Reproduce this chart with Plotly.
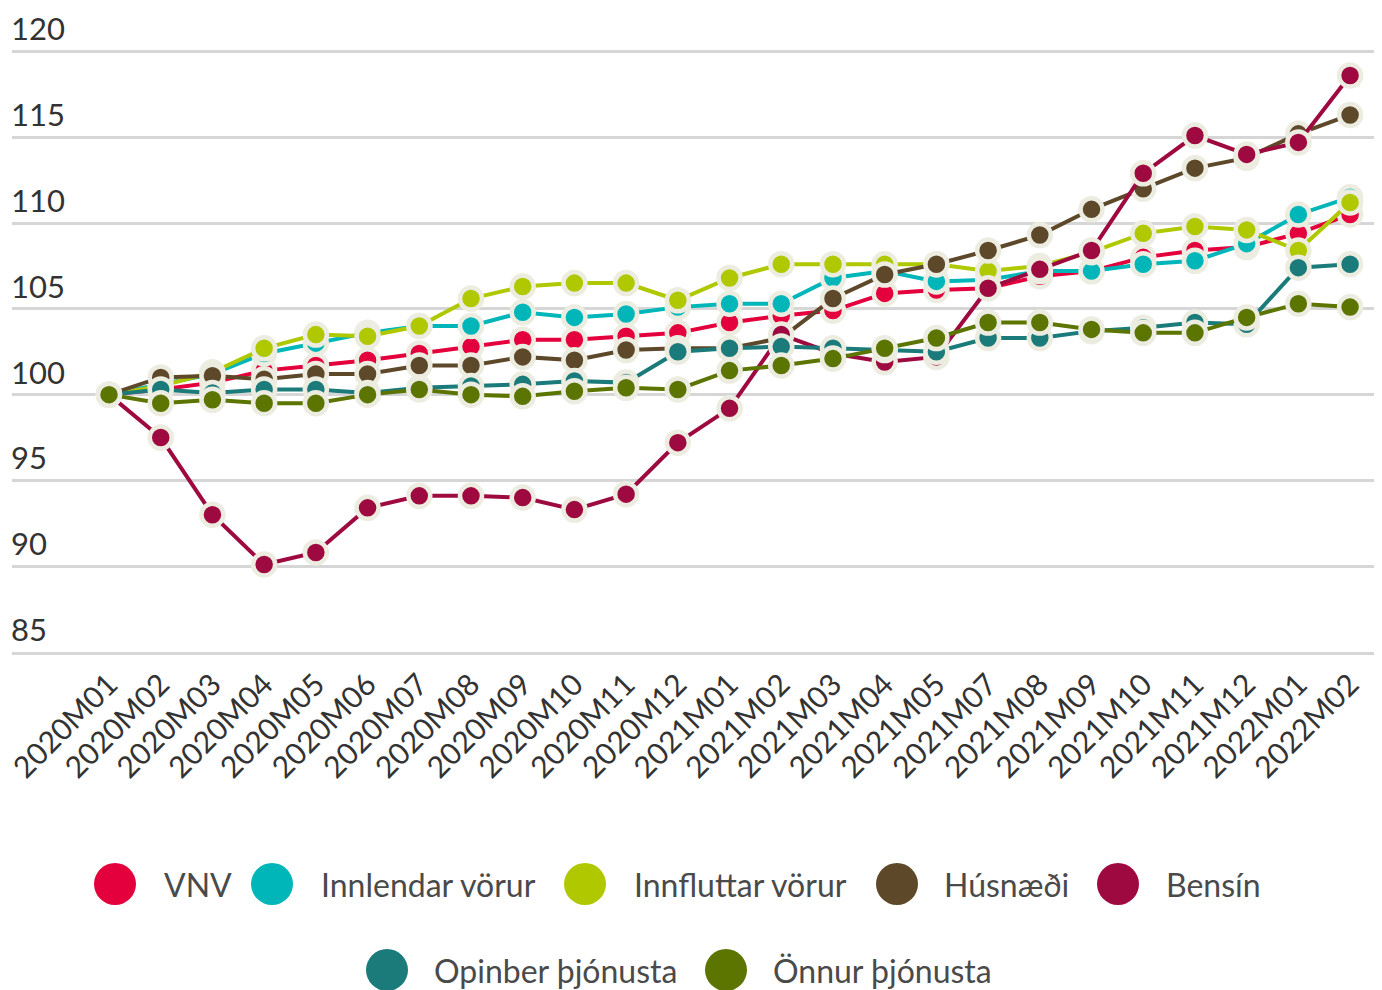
import plotly.graph_objects as go

months = ["2020M01", "2020M02", "2020M03", "2020M04", "2020M05", "2020M06", "2020M07",
          "2020M08", "2020M09", "2020M10", "2020M11", "2020M12", "2021M01", "2021M02",
          "2021M03", "2021M04", "2021M05", "2021M07", "2021M08", "2021M09", "2021M10",
          "2021M11", "2021M12", "2022M01", "2022M02"]

vnv = [100, 100.3, 100.7, 101.4, 101.7, 102.0, 102.4, 102.8, 103.2, 103.2, 103.4, 103.6,
       104.2, 104.6, 104.9, 105.9, 106.1, 106.2, 106.9, 107.2, 108.0, 108.4, 108.6, 109.4, 110.5]
innlendar = [100, 100.6, 101.2, 102.4, 103.0, 103.6, 104.0, 104.0, 104.8, 104.5, 104.7, 105.1,
             105.3, 105.3, 106.8, 107.2, 106.6, 106.7, 107.2, 107.2, 107.6, 107.8, 108.8, 110.5, 111.5]
innfluttar = [100, 100.5, 101.3, 102.7, 103.5, 103.4, 104.0, 105.6, 106.3, 106.5, 106.5, 105.5,
              106.8, 107.6, 107.6, 107.6, 107.6, 107.2, 107.5, 108.3, 109.4, 109.8, 109.6, 108.4, 111.2]
husnaedi = [100, 101.0, 101.1, 100.9, 101.2, 101.2, 101.7, 101.7, 102.2, 102.0, 102.6, 102.7,
            102.7, 103.3, 105.6, 107.0, 107.6, 108.4, 109.3, 110.8, 112.0, 113.2, 113.8, 115.2, 116.3]
bensin = [100, 97.5, 93.0, 90.1, 90.8, 93.4, 94.1, 94.1, 94.0, 93.3, 94.2, 97.2,
          99.2, 103.5, 102.4, 101.9, 102.2, 106.2, 107.3, 108.4, 112.9, 115.1, 114.0, 114.7, 118.6]
opinber = [100, 100.3, 100.1, 100.3, 100.3, 100.1, 100.4, 100.5, 100.6, 100.8, 100.7, 102.5,
           102.7, 102.8, 102.7, 102.6, 102.5, 103.3, 103.3, 103.7, 103.9, 104.2, 104.1, 107.4, 107.6]
onnur = [100, 99.5, 99.7, 99.5, 99.5, 100.0, 100.3, 100.0, 99.9, 100.2, 100.4, 100.3,
         101.4, 101.7, 102.1, 102.7, 103.3, 104.2, 104.2, 103.8, 103.6, 103.6, 104.5, 105.3, 105.1]

y_ticks = [85, 90, 95, 100, 105, 110, 115, 120]

names = ["VNV", "Innlendar vörur", "Innfluttar vörur", "Húsnæði", "Bensín",
         "Opinber þjónusta", "Önnur þjónusta"]
series = [vnv, innlendar, innfluttar, husnaedi, bensin, opinber, onnur]
colors = ["#E4003D", "#00B6B9", "#B0C800", "#5E482A", "#9E0940", "#1B7B7A", "#5C7500"]

FONT = "Lato"
HALO = "#ECECE1"

fig = go.Figure()
for name, vals, col in zip(names, series, colors):
    fig.add_trace(go.Scatter(
        x=months, y=vals, name=name, mode="lines+markers",
        line=dict(color=col, width=4),
        marker=dict(color=col, size=22, line=dict(color=HALO, width=4.5)),
        showlegend=False,
    ))

# page is offset by the default 8px body margin
OFF = 8
W, H = 1382 - OFF, 990 - OFF
ml, mr, mt, mb = 4, 4, 4, 338
pw, ph = W - ml - mr, H - mt - mb


def px2paper(x, y):
    # x, y in page pixels
    x -= OFF
    y -= OFF
    return (x - ml) / pw, (H - mb - y) / ph


legend_items = [
    (115, 162, 884), (272, 319, 884), (585, 632, 884), (897, 942, 884), (1118, 1164, 884),
    (387, 432, 970), (726, 771, 970),
]
shapes = []
annotations = []
for (mx, tx, ly), name, col in zip(legend_items, names, colors):
    ax, ay = px2paper(mx, ly)
    shapes.append(dict(type="circle", xref="paper", yref="paper",
                       xsizemode="pixel", ysizemode="pixel",
                       xanchor=ax, yanchor=ay, x0=-21, x1=21, y0=-21, y1=21,
                       fillcolor=col, line=dict(width=0)))
    tx_p, ty_p = px2paper(tx, ly)
    annotations.append(dict(text=name, xref="paper", yref="paper", x=tx_p, y=ty_p,
                            xanchor="left", yanchor="middle", showarrow=False,
                            font=dict(family=FONT, size=32, color="#4a4a4a")))

# y-axis labels sit above their gridlines at the left edge
for v in y_ticks:
    annotations.append(dict(text=str(v), xref="paper", yref="y", x=0, y=v,
                            xanchor="left", yanchor="bottom", showarrow=False,
                            xshift=-3, yshift=2,
                            font=dict(family=FONT, size=31, color="#333333")))

fig.update_layout(
    width=W, height=H,
    margin=dict(l=ml, r=mr, t=mt, b=mb, autoexpand=False),
    paper_bgcolor="white", plot_bgcolor="white",
    font=dict(family=FONT, color="#333333"),
    shapes=shapes, annotations=annotations,
    xaxis=dict(
        type="category", range=[-1.876, 24.54], automargin=False,
        tickangle=-45, tickfont=dict(size=30, color="#333333"),
        showgrid=False, showline=True, linecolor="#d6d6d6", linewidth=2.5,
        ticks="", zeroline=False,
    ),
    yaxis=dict(
        range=[85, 122.3], tickvals=y_ticks, automargin=False,
        showticklabels=False,
        showgrid=True, gridcolor="#d6d6d6", gridwidth=2.5, zeroline=False,
        showline=False, ticks="",
    ),
    hovermode=False,
)

fig.write_html("out.html")
